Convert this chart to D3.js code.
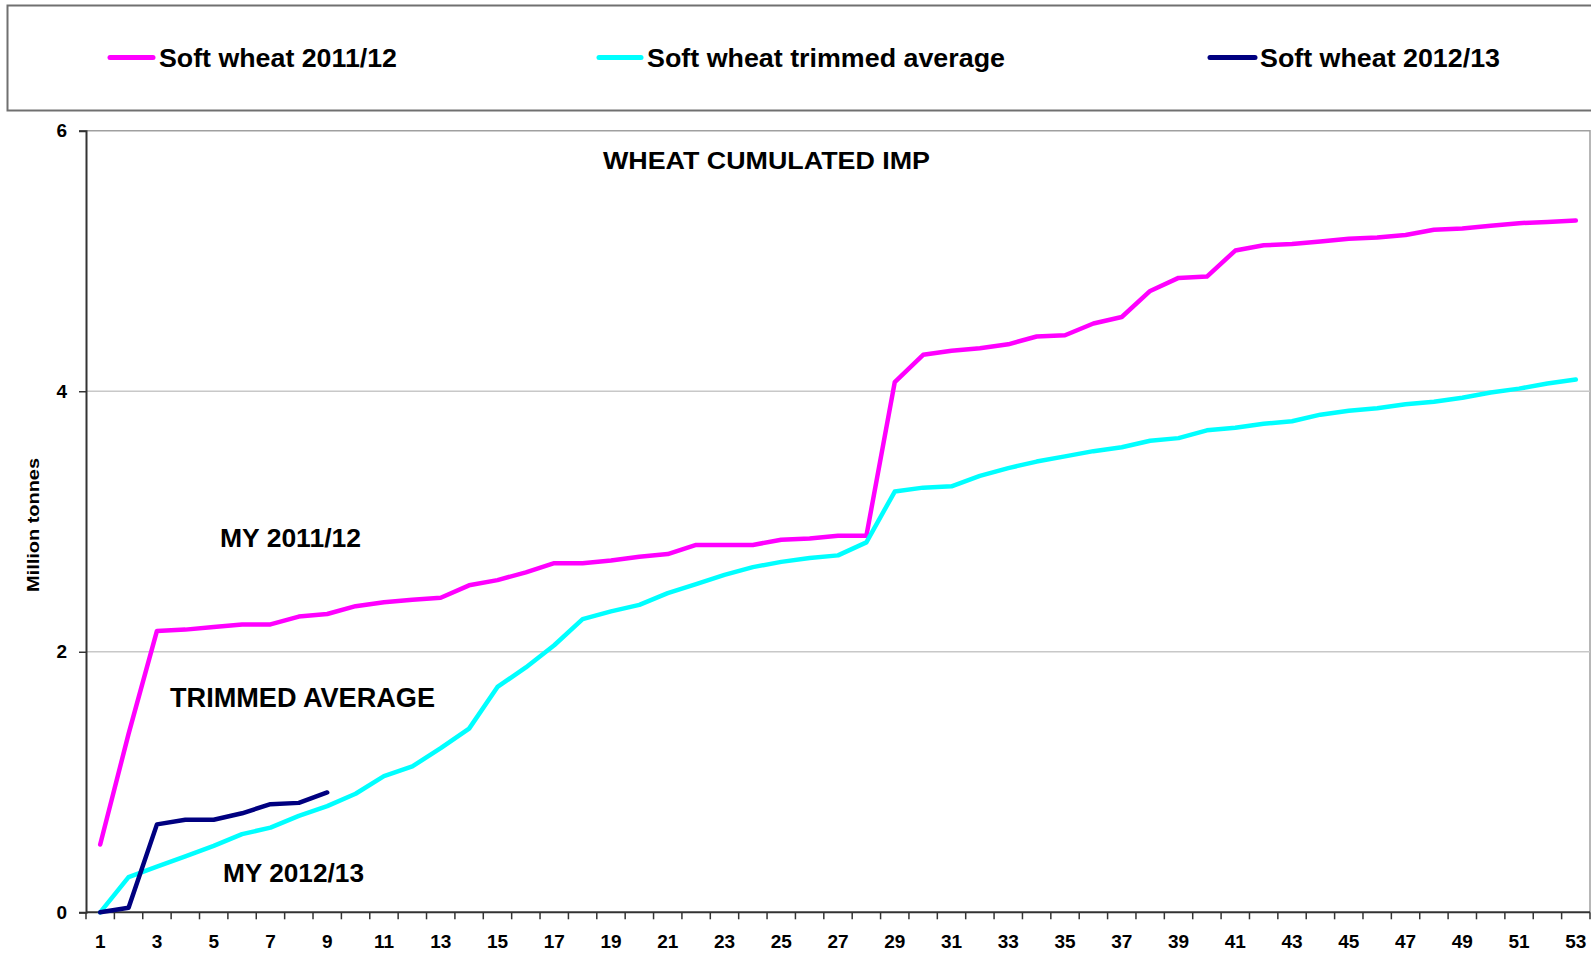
<!DOCTYPE html>
<html>
<head>
<meta charset="utf-8">
<script src="https://cdn.jsdelivr.net/npm/d3@7"></script>
<style>
  body { margin: 0; background: #fff; }
  svg text { font-family: "Liberation Sans", Arial, sans-serif; font-weight: bold; fill: #000; }
</style>
</head>
<body>
<svg id="chart" width="1591" height="953"></svg>
<script>
// week numbers of the marketing year
const weeks = [1, 2, 3, 4, 5, 6, 7, 8, 9, 10, 11, 12, 13, 14, 15, 16, 17, 18, 19, 20,
  21, 22, 23, 24, 25, 26, 27, 28, 29, 30, 31, 32, 33, 34, 35, 36, 37, 38, 39, 40,
  41, 42, 43, 44, 45, 46, 47, 48, 49, 50, 51, 52, 53];

// cumulated imports, million tonnes
const softWheat2011 = [0.52, 1.37, 2.16, 2.17, 2.19, 2.21, 2.21, 2.27, 2.29, 2.35,
  2.38, 2.40, 2.415, 2.51, 2.55, 2.61, 2.68, 2.68, 2.70, 2.73,
  2.75, 2.82, 2.82, 2.82, 2.86, 2.87, 2.89, 2.89, 4.07, 4.28,
  4.31, 4.33, 4.36, 4.42, 4.43, 4.52, 4.57, 4.77, 4.87, 4.88,
  5.08, 5.12, 5.13, 5.15, 5.17, 5.18, 5.20, 5.24, 5.25, 5.27,
  5.29, 5.30, 5.31];
const softWheatTrimmed = [0.0, 0.27, 0.35, 0.43, 0.51, 0.60, 0.65, 0.74, 0.815, 0.91,
  1.045, 1.12, 1.26, 1.41, 1.73, 1.88, 2.05, 2.25, 2.31, 2.36,
  2.45, 2.52, 2.59, 2.65, 2.69, 2.72, 2.74, 2.84, 3.23, 3.26,
  3.27, 3.35, 3.41, 3.46, 3.50, 3.54, 3.57, 3.62, 3.64, 3.70,
  3.72, 3.75, 3.77, 3.82, 3.85, 3.87, 3.90, 3.92, 3.95, 3.99,
  4.02, 4.06, 4.09];
const softWheat2012 = [0.0, 0.035, 0.675, 0.71, 0.71, 0.76, 0.83, 0.84, 0.92];

const yTicks = [0, 2, 4, 6];

const series = [
  { name: "Soft wheat 2011/12", values: softWheat2011, color: "#ff00ff" },
  { name: "Soft wheat trimmed average", values: softWheatTrimmed, color: "#00ffff" },
  { name: "Soft wheat 2012/13", values: softWheat2012, color: "#000080" },
];

const svg = d3.select("#chart");
const plot = { left: 86, right: 1590, top: 130.7, bottom: 912.3 };

const x = d3.scaleBand().domain(weeks).range([plot.left, plot.right]);
const y = d3.scaleLinear().domain([0, 6]).range([plot.bottom, plot.top]);

// legend box
svg.append("rect")
  .attr("x", 7.5).attr("y", 5.5)
  .attr("width", 1600).attr("height", 105)
  .attr("fill", "#fff").attr("stroke", "#707070").attr("stroke-width", 2);

const legendItems = [
  { x0: 110, x1: 153, tx: 159, tw: 238 },
  { x0: 599, x1: 641, tx: 647, tw: 358 },
  { x0: 1210, x1: 1255, tx: 1260, tw: 240 },
];
legendItems.forEach((it, i) => {
  svg.append("line")
    .attr("x1", it.x0).attr("x2", it.x1)
    .attr("y1", 57.5).attr("y2", 57.5)
    .attr("stroke", series[i].color)
    .attr("stroke-width", 5)
    .attr("stroke-linecap", "round");
  svg.append("text")
    .attr("x", it.tx).attr("y", 67.3)
    .attr("font-size", 25)
    .attr("textLength", it.tw)
    .attr("lengthAdjust", "spacingAndGlyphs")
    .text(series[i].name);
});

// plot frame (top and right in light gray)
svg.append("path")
  .attr("d", `M${plot.left},${plot.top}H${plot.right}V${plot.bottom}`)
  .attr("fill", "none").attr("stroke", "#a0a0a0").attr("stroke-width", 1.5);

// gridlines
svg.append("g")
  .selectAll("line")
  .data(yTicks.filter((d) => d > 0 && d < 6))
  .join("line")
  .attr("x1", plot.left).attr("x2", plot.right)
  .attr("y1", (d) => y(d)).attr("y2", (d) => y(d))
  .attr("stroke", "#c8c8c8").attr("stroke-width", 1.5);

// y axis
const yAxis = svg.append("g")
  .attr("transform", `translate(${plot.left},0)`)
  .call(d3.axisLeft(y).tickValues(yTicks).tickSize(7).tickPadding(12).tickFormat(d3.format("d")));
yAxis.select(".domain").attr("stroke", "#333").attr("stroke-width", 2);
yAxis.selectAll(".tick line").attr("stroke", "#333").attr("stroke-width", 1.5);
yAxis.selectAll(".tick text")
  .attr("font-size", 19)
  .attr("font-family", "Liberation Sans, Arial, sans-serif")
  .attr("font-weight", "bold")
  .attr("fill", "#000");

// x axis: tick marks on band boundaries, labels on odd weeks
const xg = svg.append("g");
xg.append("line")
  .attr("x1", plot.left).attr("x2", plot.right)
  .attr("y1", plot.bottom).attr("y2", plot.bottom)
  .attr("stroke", "#333").attr("stroke-width", 2);
xg.selectAll(".xtick")
  .data(weeks.concat([weeks.length + 1]))
  .join("line")
  .attr("class", "xtick")
  .attr("x1", (d) => (d <= weeks.length ? x(d) : plot.right))
  .attr("x2", (d) => (d <= weeks.length ? x(d) : plot.right))
  .attr("y1", plot.bottom).attr("y2", plot.bottom + 7)
  .attr("stroke", "#333").attr("stroke-width", 1.5);
xg.selectAll(".xlabel")
  .data(weeks.filter((d) => d % 2 === 1))
  .join("text")
  .attr("class", "xlabel")
  .attr("x", (d) => x(d) + x.bandwidth() / 2)
  .attr("y", 948)
  .attr("text-anchor", "middle")
  .attr("font-size", 19)
  .text((d) => d);

// y axis title
svg.append("text")
  .attr("transform", "translate(39,525) rotate(-90)")
  .attr("text-anchor", "middle")
  .attr("font-size", 16)
  .attr("textLength", 134)
  .attr("lengthAdjust", "spacingAndGlyphs")
  .text("Million tonnes");

// lines
const line = d3.line()
  .x((d, i) => x(weeks[i]) + x.bandwidth() / 2)
  .y((d) => y(d));

svg.append("g")
  .selectAll("path")
  .data(series)
  .join("path")
  .attr("d", (s) => line(s.values))
  .attr("fill", "none")
  .attr("stroke", (s) => s.color)
  .attr("stroke-width", 4.5)
  .attr("stroke-linejoin", "round")
  .attr("stroke-linecap", "round");

// title and annotations
const labels = [
  { text: "WHEAT CUMULATED IMP", x: 603, y: 169.3, size: 23, w: 327 },
  { text: "MY 2011/12", x: 220, y: 546.7, size: 26, w: 141 },
  { text: "TRIMMED AVERAGE", x: 170, y: 707.3, size: 27, w: 265 },
  { text: "MY 2012/13", x: 223, y: 881.7, size: 26, w: 141 },
];
svg.append("g")
  .selectAll("text")
  .data(labels)
  .join("text")
  .attr("x", (d) => d.x).attr("y", (d) => d.y)
  .attr("font-size", (d) => d.size)
  .attr("textLength", (d) => d.w)
  .attr("lengthAdjust", "spacingAndGlyphs")
  .text((d) => d.text);
</script>
</body>
</html>
